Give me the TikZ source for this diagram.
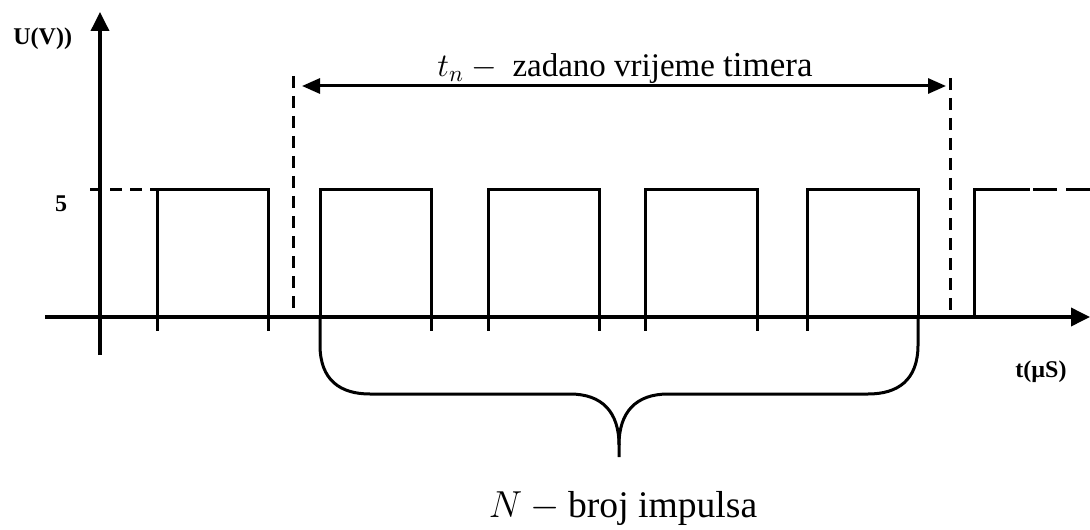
\documentclass[tikz,border=0pt]{standalone}
\usepackage{fix-cm}
\usepackage{fontspec}
\setmainfont{Liberation Serif}
\usetikzlibrary{arrows.meta}
\tikzset{
  axis/.style={line width=1.8pt},
  sig/.style={line width=1.5pt},
  dsh/.style={line width=1.5pt, dash pattern=on 6pt off 4pt},
  tick/.style={line width=1.5pt},
  lbl/.style={font=\fontsize{12}{14}\selectfont\bfseries, inner sep=0pt},
  axhead/.style={-{Triangle[length=9.5pt,width=9pt]}},
}
\begin{document}
\begin{tikzpicture}[x=0.5pt,y=-0.5pt]
\useasboundingbox (0,0) rectangle (1090,529);
% axes
\draw[axis, axhead] (100,355) -- (100,12);
\draw[axis, axhead] (45,317) -- (1090,317);
% level 5 dashed start
\draw[dsh] (90,190) -- (157,190);
% pulses
\draw[sig] (157,317) -- (157,190) -- (268,190) -- (268,317);
\draw[sig] (320,317) -- (320,190) -- (431,190) -- (431,317);
\draw[sig] (488,317) -- (488,190) -- (599,190) -- (599,317);
\draw[sig] (645,317) -- (645,190) -- (757,190) -- (757,317);
\draw[sig] (807,317) -- (807,190) -- (918,190) -- (918,317);
\draw[sig] (974,317) -- (974,190) -- (1030,190);
\draw[dsh, dash pattern=on 12pt off 4.5pt] (1033,190) -- (1090,190);
% ticks
\foreach \x in {157,268,431,488,599,645,757,807}
  \draw[tick] (\x,317) -- (\x,331);
% timer marks
\draw[dsh] (293,76) -- (293,317);
\draw[dsh] (950,78) -- (950,317);
\coordinate (tl) at (302,86);
\coordinate (tr) at (946,86);
\draw[sig, {Triangle[length=9pt,width=7.5pt]}-{Triangle[length=9pt,width=7.5pt]}] (tl) -- (tr);
% brace
\draw[sig] (320,317) -- (320,345) .. controls (320,380) and (340,394) .. (370,394)
  -- (570,394) .. controls (602,394) and (619,412) .. (619,445) -- (619,457);
\draw[sig] (619,445) .. controls (619,412) and (636,394) .. (668,394)
  -- (868,394) .. controls (898,394) and (918,380) .. (918,345) -- (918,317);
% labels
\node[lbl, anchor=base west] (ulab) at (13,45) {U(V))};
\node[lbl, anchor=base] (five) at (61,212) {5};
\node[lbl, anchor=base west] (tlab) at (1015,377) {t(µS)};
\node[inner sep=0pt, anchor=base] (tn) at (625,77)
  {\fontsize{16.5}{20}\selectfont $t_n\mathbin{-}{}$\ zadano vrijeme {\fontsize{17.5}{20}\selectfont timera}};
\node[inner sep=0pt, anchor=base] (nb) at (623,517)
  {\fontsize{18.8}{22}\selectfont $N\mathbin{-}{}$broj impulsa};
\end{tikzpicture}
\end{document}
